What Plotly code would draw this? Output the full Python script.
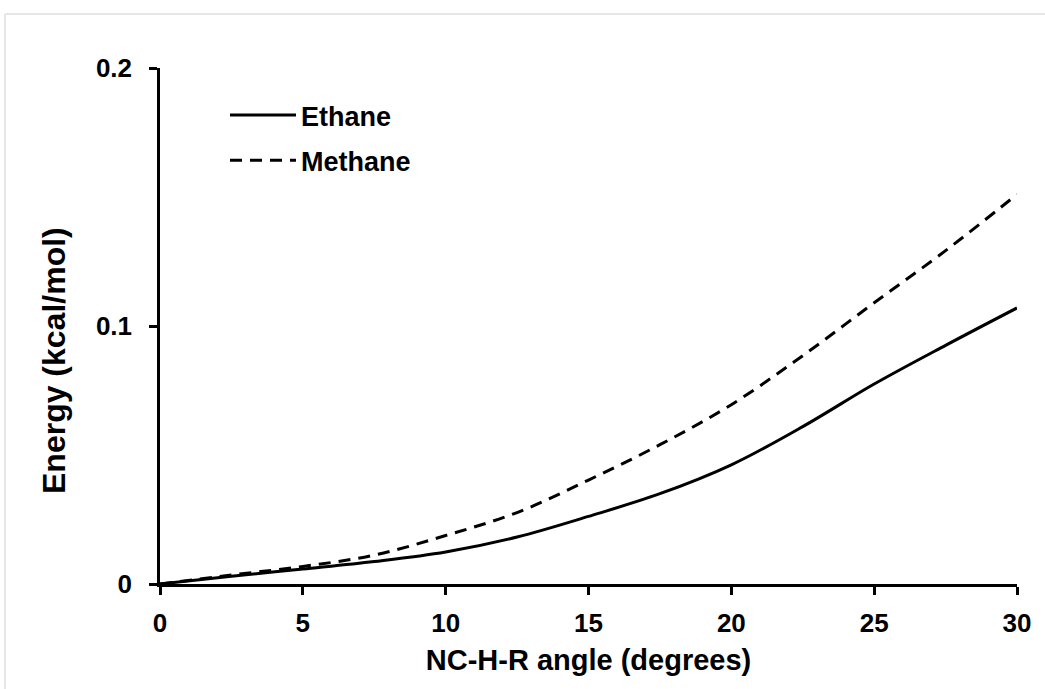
import plotly.graph_objects as go

angle = [0, 2.5, 5, 7.5, 10, 12.5, 15, 17.5, 20, 22.5, 25, 27.5, 30]
ethane = [0, 0.0030, 0.0058, 0.0087, 0.0124, 0.0182, 0.0262, 0.0350, 0.0462, 0.0610, 0.0775, 0.0925, 0.1070]
methane = [0, 0.0035, 0.0068, 0.0112, 0.0188, 0.0277, 0.0403, 0.0540, 0.0695, 0.0885, 0.1090, 0.1292, 0.1510]

x_ticks = [0, 5, 10, 15, 20, 25, 30]
y_ticks = [0, 0.1, 0.2]
y_tick_text = ["0", "0.1", "0.2"]

FONT = "Liberation Sans, Arial, sans-serif"

fig = go.Figure()
fig.add_trace(go.Scatter(x=angle, y=ethane, mode="lines", name="<b>Ethane</b>", legendgroup="ethane",
                         line=dict(color="black", width=3, shape="spline")))
fig.add_trace(go.Scatter(x=angle, y=methane, mode="lines", name="<b>Methane</b>", legendgroup="methane",
                         line=dict(color="black", width=3, shape="spline", dash="12px,8px")))

W, H = 1045, 689
L, R, T, B = 160, 1017, 68, 584
def px2paper_x(p):
    return (p - L) / (R - L)
def px2paper_y(p):
    return (B - p) / (B - T)

fig.update_layout(
    width=W, height=H,
    margin=dict(l=L, r=W - R, t=T, b=H - B),
    paper_bgcolor="white", plot_bgcolor="white",
    font=dict(family=FONT, color="black", size=26),
    showlegend=True,
    legend=dict(x=px2paper_x(225), y=px2paper_y(91), xanchor="left", yanchor="top",
                bgcolor="rgba(0,0,0,0)", font=dict(size=27, family=FONT, color="black"),
                itemwidth=66, tracegroupgap=7),
    xaxis=dict(range=[0, 30], tickvals=x_ticks, ticktext=["<b>%d</b>" % v for v in x_ticks],
               showgrid=False, zeroline=False,
               showline=True, linecolor="black", linewidth=2.5,
               ticks="outside", ticklen=8, tickwidth=2.5, tickcolor="black",
               ticklabelstandoff=6,
               tickfont=dict(size=26, family=FONT, color="black"),
               title=dict(text="<b>NC-H-R angle (degrees)</b>", font=dict(size=29, family=FONT), standoff=13)),
    yaxis=dict(range=[0, 0.2], tickvals=y_ticks, ticktext=["<b>%s</b>" % t for t in y_tick_text],
               showgrid=False, zeroline=False,
               showline=True, linecolor="black", linewidth=2.5,
               ticks="outside", ticklen=8, tickwidth=2.5, tickcolor="black",
               ticklabelstandoff=12,
               tickfont=dict(size=26, family=FONT, color="black")),
)

# y-axis title, placed where the reference has it (slightly below the plot centre)
fig.add_annotation(text="<b>Energy (kcal/mol)</b>", textangle=-90,
                   xref="paper", yref="paper", x=px2paper_x(54), y=px2paper_y(361),
                   xanchor="center", yanchor="middle", showarrow=False,
                   font=dict(size=32, family=FONT, color="black"))

# light page border (top and left)
fig.add_shape(type="line", xref="paper", yref="paper",
              x0=px2paper_x(5), x1=px2paper_x(1050), y0=px2paper_y(14), y1=px2paper_y(14),
              line=dict(color="#e6e6e6", width=2), layer="below")
fig.add_shape(type="line", xref="paper", yref="paper",
              x0=px2paper_x(5), x1=px2paper_x(5), y0=px2paper_y(14), y1=px2paper_y(700),
              line=dict(color="#e6e6e6", width=2), layer="below")

fig.write_html("out.html")
